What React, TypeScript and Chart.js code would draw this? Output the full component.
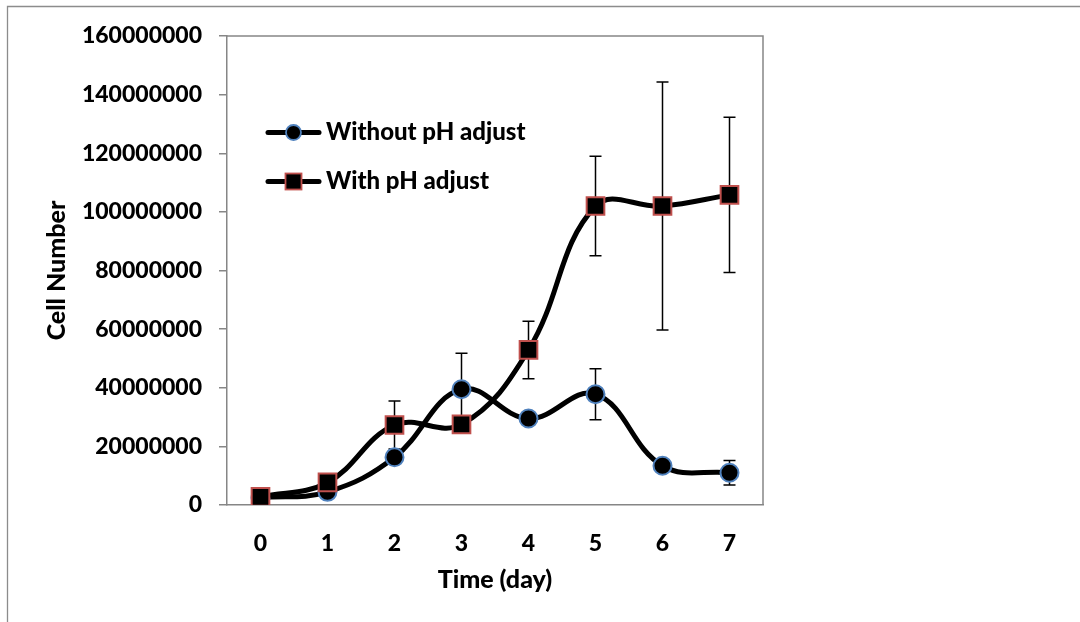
import React, { useEffect, useRef } from 'react';
import { Chart, registerables } from 'chart.js';

Chart.register(...registerables);

const days = ['0', '1', '2', '3', '4', '5', '6', '7'];
const seriesNames = ['Without pH adjust', 'With pH adjust'];
const withoutPH = [2500000, 4500000, 16300000, 39500000, 29500000, 37800000, 13400000, 11000000];
const withoutPHErr = [0, 0, 2000000, 12300000, 1500000, 8700000, 1000000, 4200000];
const withPH = [2800000, 7700000, 27300000, 27500000, 52900000, 102000000, 102000000, 105800000];
const withPHErr = [0, 0, 8200000, 1500000, 9800000, 17000000, 42300000, 26500000];
const yMin = 0;
const yMax = 160000000;
const yStep = 20000000;

const AXIS_GREY = '#868686';
const BLUE = '#4f81bd';
const RED = '#c0504d';
const FONT_FAMILY = 'Lato, "Open Sans", sans-serif';

const errorBarPlugin = {
  id: 'errorBars',
  beforeDatasetsDraw(chart: any) {
    const ctx = chart.ctx;
    const x = chart.scales.x;
    const y = chart.scales.y;
    const sets = [
      { values: withoutPH, errs: withoutPHErr },
      { values: withPH, errs: withPHErr },
    ];
    ctx.save();
    ctx.strokeStyle = '#000';
    ctx.lineWidth = 1.5;
    sets.forEach((s) => {
      s.values.forEach((v, i) => {
        const e = s.errs[i];
        if (!e) return;
        const px = x.getPixelForValue(i);
        const top = y.getPixelForValue(v + e);
        const bot = y.getPixelForValue(v - e);
        ctx.beginPath();
        ctx.moveTo(px, top);
        ctx.lineTo(px, bot);
        ctx.moveTo(px - 6, top);
        ctx.lineTo(px + 6, top);
        ctx.moveTo(px - 6, bot);
        ctx.lineTo(px + 6, bot);
        ctx.stroke();
      });
    });
    ctx.restore();
  },
};

const framePlugin = {
  id: 'frame',
  afterDraw(chart: any) {
    const ctx = chart.ctx;
    const a = chart.chartArea;
    ctx.save();
    ctx.strokeStyle = AXIS_GREY;
    ctx.lineWidth = 1.5;
    ctx.beginPath();
    ctx.moveTo(a.left, a.top);
    ctx.lineTo(a.right, a.top);
    ctx.lineTo(a.right, a.bottom);
    ctx.stroke();
    ctx.strokeStyle = '#8c8c8c';
    ctx.lineWidth = 1.3;
    ctx.beginPath();
    ctx.moveTo(7.5, 640);
    ctx.lineTo(7.5, 6.5);
    ctx.lineTo(1100, 6.5);
    ctx.stroke();

    const entries = [
      { label: seriesNames[0], y: 132.5, style: 'circle' },
      { label: seriesNames[1], y: 181.5, style: 'rect' },
    ];
    entries.forEach((en) => {
      ctx.strokeStyle = '#000';
      ctx.lineWidth = 5;
      ctx.lineCap = 'round';
      ctx.beginPath();
      ctx.moveTo(268, en.y);
      ctx.lineTo(319, en.y);
      ctx.stroke();
      ctx.fillStyle = '#000';
      ctx.lineWidth = 1.8;
      if (en.style === 'circle') {
        ctx.strokeStyle = BLUE;
        ctx.beginPath();
        ctx.arc(293.5, en.y, 7.5, 0, Math.PI * 2);
        ctx.fill();
        ctx.stroke();
      } else {
        ctx.strokeStyle = RED;
        ctx.fillRect(285.5, en.y - 8, 16, 16);
        ctx.strokeRect(285.5, en.y - 8, 16, 16);
      }
      ctx.fillStyle = '#000';
      ctx.font = '900 24px ' + FONT_FAMILY;
      ctx.textAlign = 'left';
      ctx.textBaseline = 'middle';
      ctx.fillText(en.label, 326, en.y);
    });
    ctx.restore();
  },
};

export default function App() {
  const ref = useRef<HTMLCanvasElement | null>(null);
  useEffect(() => {
    document.body.style.margin = '0';
    const canvas = ref.current;
    if (!canvas) return;
    const tickFont = { family: FONT_FAMILY, size: 23, weight: 900 as any };
    const titleFont = { family: FONT_FAMILY, size: 25, weight: 900 as any };
    const chart = new Chart(canvas, {
      type: 'line',
      data: {
        labels: days,
        datasets: [
          {
            label: seriesNames[0],
            data: withoutPH,
            borderColor: '#000',
            borderWidth: 5,
            tension: 0.4,
            pointStyle: 'circle',
            pointRadius: 9,
            pointBackgroundColor: '#000',
            pointBorderColor: BLUE,
            pointBorderWidth: 2,
            order: 1,
          },
          {
            label: seriesNames[1],
            data: withPH,
            borderColor: '#000',
            borderWidth: 5,
            tension: 0.4,
            pointStyle: 'rect',
            pointRadius: 12.5,
            pointBackgroundColor: '#000',
            pointBorderColor: RED,
            pointBorderWidth: 2,
            order: 0,
          },
        ],
      },
      options: {
        animation: false,
        responsive: false,
        devicePixelRatio: 1,
        layout: { padding: { left: 0, right: 317, top: 36, bottom: 0 } },
        plugins: {
          legend: { display: false },
          tooltip: { enabled: false },
        },
        scales: {
          x: {
            type: 'category',
            offset: true,
            grid: { display: false, drawTicks: false },
            border: { color: AXIS_GREY, width: 1.5 },
            ticks: { color: '#000', font: tickFont, padding: 25 },
            title: {
              display: true,
              text: 'Time (day)',
              color: '#000',
              font: titleFont,
              padding: { top: 0, bottom: 27 },
            },
            afterFit(scale: any) {
              scale.height = 117;
            },
          },
          y: {
            min: yMin,
            max: yMax,
            grid: {
              drawOnChartArea: false,
              drawTicks: true,
              tickLength: 8,
              color: AXIS_GREY,
              lineWidth: 1.5,
            },
            border: { color: AXIS_GREY, width: 1.5 },
            ticks: {
              stepSize: yStep,
              color: '#000',
              font: tickFont,
              padding: 17,
              callback: (v: any) => String(v),
            },
            title: {
              display: true,
              text: 'Cell Number',
              color: '#000',
              font: titleFont,
              padding: { top: 42, bottom: 0 },
            },
            afterFit(scale: any) {
              scale.width = 227;
            },
          },
        },
      },
      plugins: [errorBarPlugin, framePlugin],
    });
    return () => chart.destroy();
  }, []);
  return (
    <div style={{ width: 1080, height: 622, background: '#fff' }}>
      <canvas ref={ref} width={1080} height={622} style={{ display: 'block' }} />
    </div>
  );
}
